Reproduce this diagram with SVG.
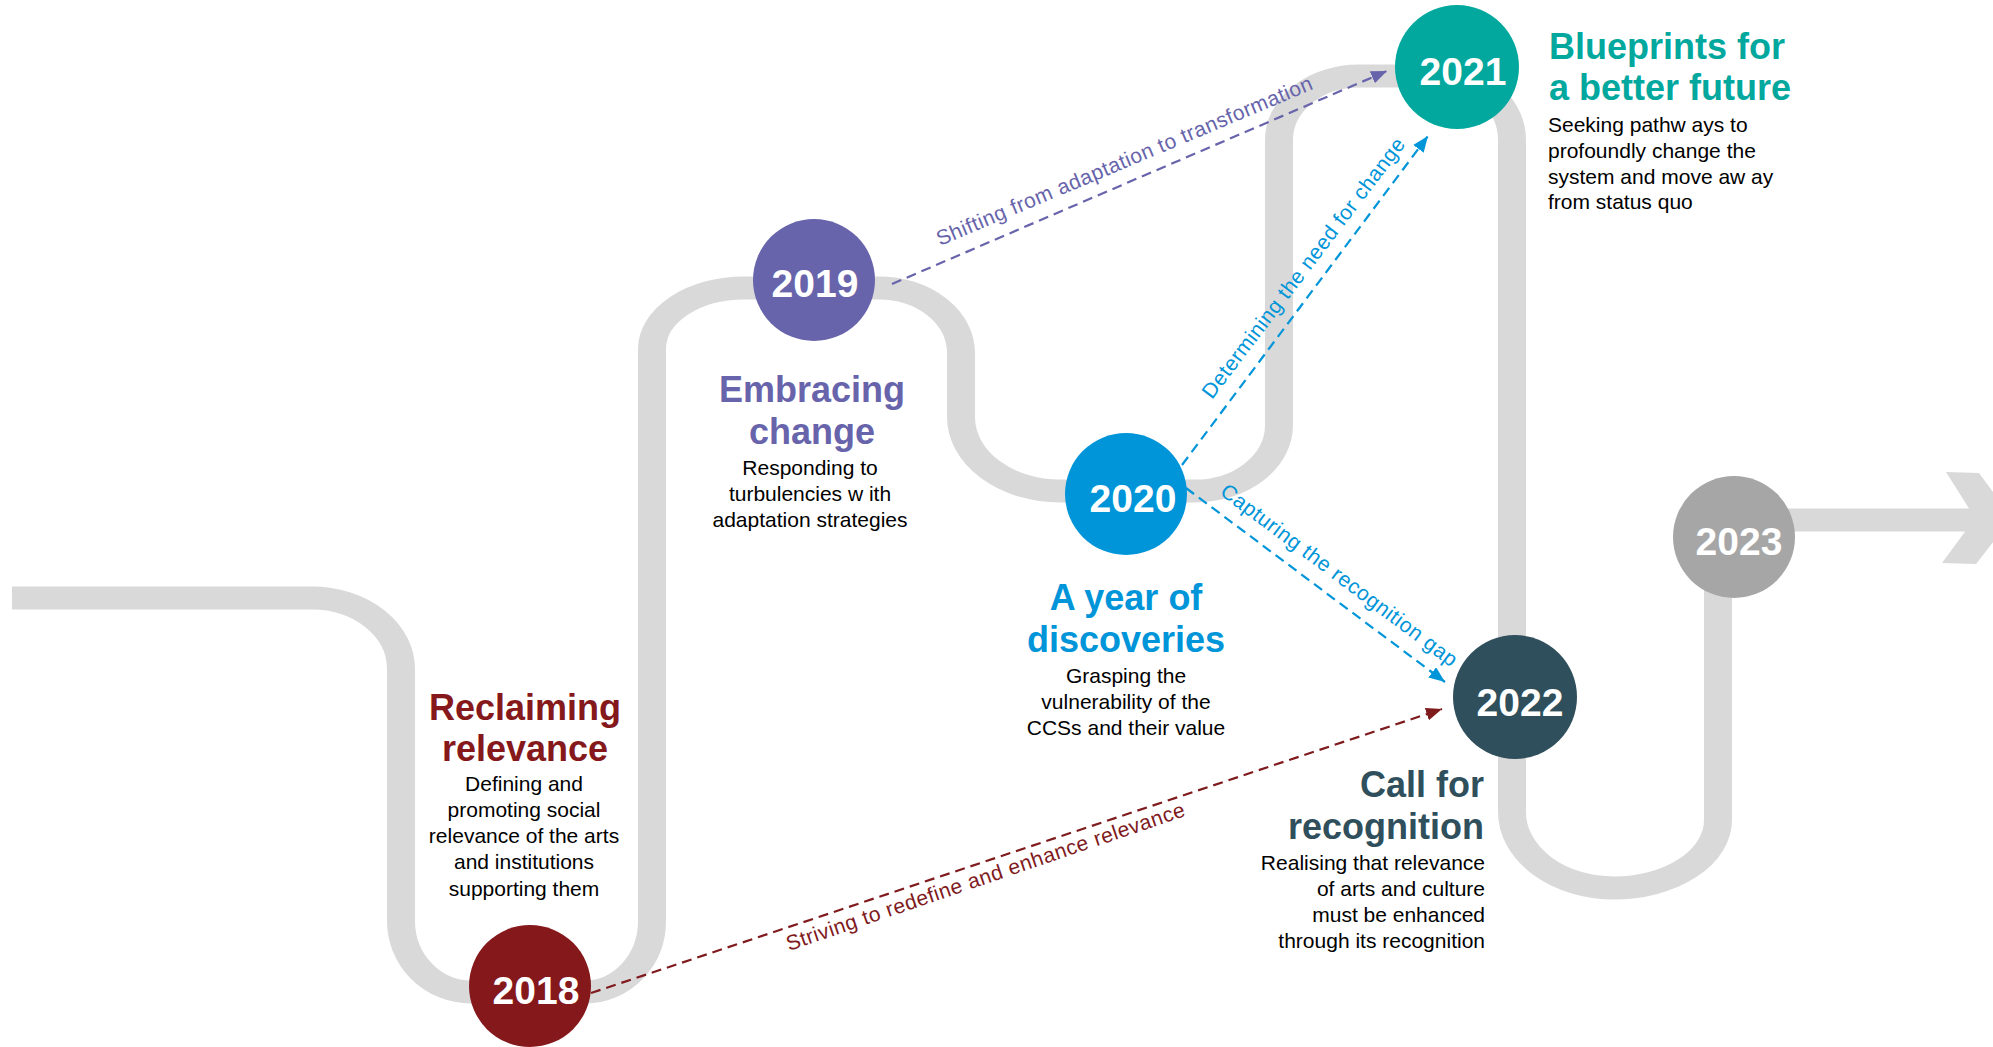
<svg xmlns="http://www.w3.org/2000/svg" width="1993" height="1047" viewBox="0 0 1993 1047">
<style>
.road{fill:none;stroke:#d9d9d9;stroke-width:28;stroke-linejoin:round}
.chev{fill:#d9d9d9}
.yr{font-family:"Liberation Sans",Arial,sans-serif;font-weight:bold;font-size:39px;fill:#ffffff;text-anchor:middle}
.hd{font-family:"Liberation Sans",Arial,sans-serif;font-weight:bold;font-size:36px}
.bd{font-family:"Liberation Sans",Arial,sans-serif;font-size:21px;fill:#000000}
.lbl{font-family:"Liberation Sans",Arial,sans-serif;font-size:21px;letter-spacing:0.5px}
.con{fill:none;stroke-width:2.2;stroke-dasharray:10 6}
.mid{text-anchor:middle}
.end{text-anchor:end}
</style>
<defs>
<marker id="arRed" markerUnits="userSpaceOnUse" markerWidth="16" markerHeight="14" refX="16" refY="6.5" orient="auto"><path d="M0,0 L16,6.5 L0,13 z" fill="#7f1a1d"/></marker>
<marker id="arPur" markerUnits="userSpaceOnUse" markerWidth="16" markerHeight="14" refX="16" refY="6.5" orient="auto"><path d="M0,0 L16,6.5 L0,13 z" fill="#6764ab"/></marker>
<marker id="arBlu" markerUnits="userSpaceOnUse" markerWidth="16" markerHeight="14" refX="16" refY="6.5" orient="auto"><path d="M0,0 L16,6.5 L0,13 z" fill="#0095d9"/></marker>
</defs>
<rect width="1993" height="1047" fill="#ffffff"/>
<g id="road">
<path class="road" transform="scale(1,0.82)" d="M 12 729.3 H 312 A 89 86.6 0 0 1 401 815.9 V 1123.2 A 70 86.6 0 0 0 471 1209.8 H 585 A 67 86.6 0 0 0 652 1123.2 V 425.6 A 92 74.4 0 0 1 744 351.2 H 879 A 82 79.3 0 0 1 961 430.5 V 508.5 A 99 90.2 0 0 0 1060 598.8 H 1195 A 84 80.5 0 0 0 1279 518.3 V 170.7 A 80 78 0 0 1 1359 92.7 H 1440 A 72 78 0 0 1 1512 170.7 V 990.2 A 102 92.7 0 0 0 1614 1082.9 A 104 82.9 0 0 0 1718 1000 V 719.5 A 60 85.4 0 0 1 1778 634.1 H 1980"/>
<polygon class="chev" points="1946,472 1979,473 2012,518 1976,564 1942,563 1975,518"/>
</g>
<g id="connectors">
<line class="con" x1="591" y1="993" x2="1442" y2="709" stroke="#7f1a1d" marker-end="url(#arRed)"/>
<line class="con" x1="892" y1="284" x2="1387" y2="71" stroke="#6764ab" marker-end="url(#arPur)"/>
<line class="con" x1="1182" y1="465" x2="1428" y2="136" stroke="#0095d9" marker-end="url(#arBlu)"/>
<line class="con" x1="1186" y1="488" x2="1445" y2="682" stroke="#0095d9" marker-end="url(#arBlu)"/>
<text class="lbl" fill="#7f1a1d" x="789" y="951" transform="rotate(-18.8 789 951)">Striving to redefine and enhance relevance</text>
<text class="lbl" fill="#6764ab" x="940" y="246" transform="rotate(-22.8 940 246)">Shifting from adaptation to transformation</text>
<text class="lbl" fill="#0095d9" x="1212" y="400" transform="rotate(-52.8 1212 400)">Determining the need for change</text>
<text class="lbl" fill="#0095d9" x="1219" y="494" transform="rotate(36.8 1219 494)">Capturing the recognition gap</text>
</g>
<g id="node-2018">
<circle cx="530" cy="986" r="61" fill="#85181b"/>
<text class="yr" x="536" y="1004">2018</text>
<text class="hd mid" fill="#85181b" x="525" y="720">Reclaiming</text>
<text class="hd mid" fill="#85181b" x="525" y="761">relevance</text>
<text class="bd mid" x="524" y="791">Defining and</text>
<text class="bd mid" x="524" y="817">promoting social</text>
<text class="bd mid" x="524" y="843">relevance of the arts</text>
<text class="bd mid" x="524" y="869">and institutions</text>
<text class="bd mid" x="524" y="896">supporting them</text>
</g>
<g id="node-2019">
<circle cx="814" cy="280" r="61" fill="#6764ab"/>
<text class="yr" x="815" y="297">2019</text>
<text class="hd mid" fill="#6764ab" x="812" y="402">Embracing</text>
<text class="hd mid" fill="#6764ab" x="812" y="444">change</text>
<text class="bd mid" x="810" y="475">Responding to</text>
<text class="bd mid" x="810" y="501">turbulencies w ith</text>
<text class="bd mid" x="810" y="527">adaptation strategies</text>
</g>
<g id="node-2020">
<circle cx="1126" cy="494" r="61" fill="#0095d9"/>
<text class="yr" x="1133" y="512">2020</text>
<text class="hd mid" fill="#0095d9" x="1126" y="610">A year of</text>
<text class="hd mid" fill="#0095d9" x="1126" y="652">discoveries</text>
<text class="bd mid" x="1126" y="683">Grasping the</text>
<text class="bd mid" x="1126" y="709">vulnerability of the</text>
<text class="bd mid" x="1126" y="735">CCSs and their value</text>
</g>
<g id="node-2021">
<circle cx="1457" cy="67" r="62" fill="#02a89e"/>
<text class="yr" x="1463" y="85">2021</text>
<text class="hd" fill="#02a89e" x="1549" y="59">Blueprints for</text>
<text class="hd" fill="#02a89e" x="1549" y="100">a better future</text>
<text class="bd" x="1548" y="132">Seeking pathw ays to</text>
<text class="bd" x="1548" y="158">profoundly change the</text>
<text class="bd" x="1548" y="184">system and move aw ay</text>
<text class="bd" x="1548" y="209">from status quo</text>
</g>
<g id="node-2022">
<circle cx="1515" cy="697" r="62" fill="#304f5c"/>
<text class="yr" x="1520" y="716">2022</text>
<text class="hd end" fill="#304f5c" x="1484" y="797">Call for</text>
<text class="hd end" fill="#304f5c" x="1484" y="839">recognition</text>
<text class="bd end" x="1485" y="870">Realising that relevance</text>
<text class="bd end" x="1485" y="896">of arts and culture</text>
<text class="bd end" x="1485" y="922">must be enhanced</text>
<text class="bd end" x="1485" y="948">through its recognition</text>
</g>
<g id="node-2023">
<circle cx="1734" cy="537" r="61" fill="#a6a6a6"/>
<text class="yr" x="1739" y="555">2023</text>
</g>
</svg>
